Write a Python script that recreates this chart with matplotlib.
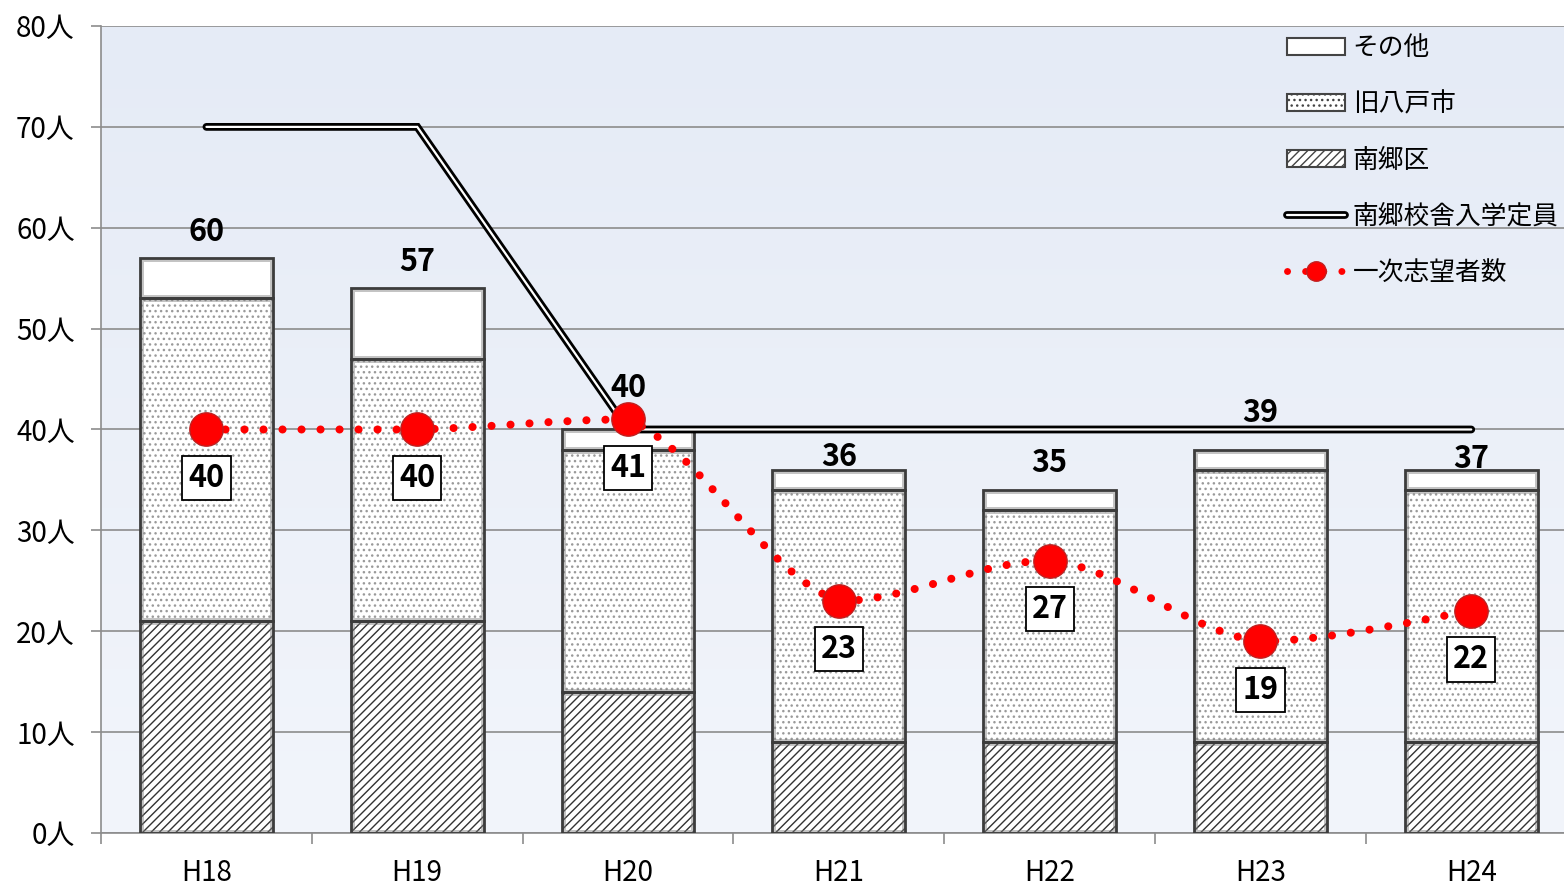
import numpy as np
import matplotlib
matplotlib.use('Agg')
import matplotlib.pyplot as plt
from matplotlib.patches import Patch, PathPatch
from matplotlib.lines import Line2D
from matplotlib.path import Path
from matplotlib.colors import LinearSegmentedColormap
import matplotlib.patheffects as pe

plt.rcParams['font.family'] = ['Noto Sans CJK JP', 'DejaVu Sans']
plt.rcParams['hatch.linewidth'] = 1.0

# data
years = ['H18', 'H19', 'H20', 'H21', 'H22', 'H23', 'H24']
nango = [21, 21, 14, 9, 9, 9, 9]          # 南郷区
kyu_hachinohe = [32, 26, 24, 25, 23, 27, 25]  # 旧八戸市
sonota = [4, 7, 2, 2, 2, 2, 2]           # その他
total_labels = [60, 57, 40, 36, 35, 39, 37]
capacity = [70, 70, 40, 40, 40, 40, 40]  # 南郷校舎入学定員
applicants = [40, 40, 41, 23, 27, 19, 22]  # 一次志望者数

# manual nudges of the total labels above each bar (as in the original)
label_nudge = [2.6, 2.6, 4.1, 1.3, 2.7, 3.6, 1.1]

fig = plt.figure(figsize=(15.64, 8.85), dpi=100)
ax = fig.add_axes([0.0646, 0.0588, 0.9354, 0.9118])

# light blue gradient background
grad = np.linspace(0, 1, 256).reshape(-1, 1)
bg = LinearSegmentedColormap.from_list('bg', ['#e5ebf6', '#f2f5fb'])
ax.imshow(grad, cmap=bg, aspect='auto', extent=[0, 1, 0, 1],
          transform=ax.transAxes, zorder=0)

x = np.arange(len(years))
w = 0.63
nango = np.array(nango)
kyu_hachinohe = np.array(kyu_hachinohe)
sonota = np.array(sonota)

segments = [
    (nango, np.zeros(len(x)), '////', '#333333'),
    (kyu_hachinohe, nango, '...', '#9a9a9a'),
    (sonota, nango + kyu_hachinohe, '', '#ffffff'),
]
for vals, bottom, hatch, hc in segments:
    bars = ax.bar(x, vals, w, bottom=bottom, color='white', hatch=hatch,
                  edgecolor=hc, linewidth=0, zorder=2)
    for b in bars:
        # inner bevel shading
        b2 = plt.Rectangle(b.get_xy(), b.get_width(), b.get_height(),
                           fill=False, edgecolor='#7a7a7a', linewidth=5,
                           alpha=0.45, zorder=2.5)
        ax.add_patch(b2)
        b2.set_clip_path(b)
    ax.bar(x, vals, w, bottom=bottom, fill=False, edgecolor='#3c3c3c',
           linewidth=2, zorder=3)

tops = nango + kyu_hachinohe + sonota
for xi, t, lab, nd in zip(x, tops, total_labels, label_nudge):
    ax.text(xi, t + nd, str(lab), ha='center', va='center', fontsize=22,
            fontweight='bold', zorder=6)

# capacity: double line
ax.plot(x, capacity, color='white', lw=1.6, solid_capstyle='round',
        solid_joinstyle='miter', zorder=4,
        path_effects=[pe.Stroke(linewidth=5.6, foreground='black'), pe.Normal()])

# applicants: smoothed dotted curve (bezier handles kept inside each segment's range)
pts = np.column_stack([x, applicants]).astype(float)
verts = [pts[0]]
codes = [Path.MOVETO]
n = len(pts)
for i in range(n - 1):
    p0 = pts[i - 1] if i > 0 else pts[i]
    p1, p2 = pts[i], pts[i + 1]
    p3 = pts[i + 2] if i + 2 < n else pts[i + 1]
    c1 = p1 + (p2 - p0) / 6
    c2 = p2 - (p3 - p1) / 6
    lo, hi = min(p1[1], p2[1]), max(p1[1], p2[1])
    c1[1] = np.clip(c1[1], lo, hi)
    c2[1] = np.clip(c2[1], lo, hi)
    verts += [c1, c2, p2]
    codes += [Path.CURVE4] * 3
curve = PathPatch(Path(verts, codes), fill=False, edgecolor='red', lw=5.8,
                  linestyle=(0, (0.01, 2.35)), capstyle='round', zorder=5)
ax.add_patch(curve)
ax.plot(x, applicants, ls='none', marker='o', ms=24, mfc='red',
        mec='#c02020', mew=1, zorder=5.5)
for xi, v in zip(x, applicants):
    ax.text(xi, v - 4.8, str(v), ha='center', va='center', fontsize=22,
            fontweight='bold', zorder=7,
            bbox=dict(boxstyle='square,pad=0.2', fc='white', ec='black', lw=1.3))

ax.set_xlim(-0.5, 6.44)
ax.set_ylim(0, 80)
ax.set_yticks(range(0, 81, 10))
ax.set_yticklabels([f'{v}人' for v in range(0, 81, 10)], fontsize=20)
ax.set_xticks(x)
ax.set_xticklabels(years, fontsize=20)
ax.set_xticks(np.arange(-0.5, 6.5, 1), minor=True)
ax.tick_params(axis='x', which='major', length=0, pad=18)
ax.tick_params(axis='x', which='minor', length=8, color='#8c8c8c', width=1.2)
ax.tick_params(axis='y', length=7, color='#8c8c8c', width=1.2, pad=12)
ax.grid(axis='y', color='#8c8c8c', lw=1.2, zorder=1)
ax.set_axisbelow(True)
for s in ['top', 'right']:
    ax.spines[s].set_visible(False)
for s in ['left', 'bottom']:
    ax.spines[s].set_color('#8c8c8c')
    ax.spines[s].set_linewidth(1.2)

handles = [
    Patch(facecolor='white', edgecolor='#444444', lw=1.5),
    Patch(facecolor='white', edgecolor='#444444', hatch='...', lw=1.5),
    Patch(facecolor='white', edgecolor='#444444', hatch='////', lw=1.5),
    Line2D([], [], color='white', lw=1.6, solid_capstyle='round',
           path_effects=[pe.Stroke(linewidth=5.6, foreground='black'), pe.Normal()]),
    Line2D([], [], color='red', lw=5, ls=(0, (0.01, 2.6)), dash_capstyle='round',
           marker='o', ms=14, mfc='red', mec='#c02020'),
]
labels = ['その他', '旧八戸市', '南郷区', '南郷校舎入学定員', '一次志望者数']
ax.legend(handles, labels, loc='upper left', bbox_to_anchor=(0.795, 1.017),
          frameon=False, fontsize=18.5, handlelength=2.25, handleheight=0.65,
          labelspacing=1.17, handletextpad=0.3)

fig.savefig('out.png', dpi=100)
